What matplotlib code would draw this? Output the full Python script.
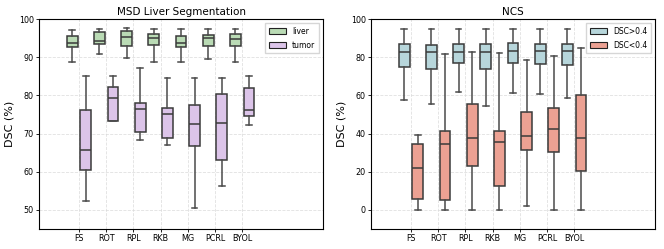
import matplotlib
matplotlib.use("Agg")
import matplotlib.pyplot as plt
from matplotlib.patches import Patch

methods = ["FS", "ROT", "RPL", "RKB", "MG", "PCRL", "BYOL"]

# [whislo, q1, median, q3, whishi]
liver = [
    [88.8, 92.6, 93.7, 95.6, 97.2],
    [91.0, 93.6, 94.4, 96.6, 97.4],
    [89.8, 93.1, 95.3, 96.9, 97.8],
    [88.9, 93.3, 95.0, 96.1, 97.5],
    [88.7, 92.6, 93.9, 95.6, 97.5],
    [89.5, 92.9, 95.0, 95.9, 97.5],
    [88.8, 93.0, 94.7, 96.1, 97.5],
]
tumor = [
    [52.3, 60.5, 65.6, 76.3, 85.2],
    [73.4, 73.4, 79.4, 82.3, 85.1],
    [68.2, 70.5, 76.4, 78.1, 87.3],
    [67.1, 68.8, 75.0, 76.6, 84.6],
    [50.5, 66.7, 72.5, 77.5, 84.6],
    [56.2, 63.1, 72.8, 80.5, 84.6],
    [72.3, 74.5, 76.3, 81.9, 85.2],
]
dsc_high = [
    [57.7, 75.1, 82.6, 87.0, 94.7],
    [55.3, 73.7, 82.6, 86.3, 95.1],
    [61.6, 76.8, 82.6, 87.2, 95.1],
    [54.4, 74.0, 82.6, 87.0, 95.1],
    [61.4, 77.2, 83.2, 87.5, 94.7],
    [60.9, 76.7, 83.5, 87.0, 95.1],
    [58.9, 75.8, 83.5, 87.2, 94.7],
]
dsc_low = [
    [0.0, 5.8, 21.9, 34.6, 39.3],
    [0.0, 5.3, 34.4, 41.4, 81.8],
    [0.0, 23.0, 37.9, 55.6, 83.0],
    [0.0, 12.3, 35.6, 41.4, 82.5],
    [2.1, 31.1, 38.6, 51.2, 78.8],
    [0.0, 30.5, 42.6, 53.5, 80.5],
    [0.0, 20.5, 37.5, 60.0, 84.9],
]

panels = [
    ("MSD Liver Segmentation", liver, tumor, ["liver", "tumor"],
     ["#badbb5", "#dcc4e9"], (45, 100), list(range(50, 101, 10))),
    ("NCS", dsc_high, dsc_low, ["DSC>0.4", "DSC<0.4"],
     ["#b7d6db", "#eca193"], (-10, 100), list(range(0, 101, 20))),
]

fig = plt.figure(figsize=(6.64, 2.49), dpi=100)
axes_rects = [[0.0592, 0.0815, 0.4268, 0.841], [0.5592, 0.0815, 0.4268, 0.841]]
edge = "#3a3a3a"

def to_stats(rows):
    out = []
    for r in rows:
        out.append(dict(whislo=r[0], q1=r[1], med=r[2], q3=r[3], whishi=r[4], fliers=[]))
    return out

for rect, (title, s1, s2, labels, colors, ylim, yticks) in zip(axes_rects, panels):
    ax = fig.add_axes(rect)
    ax.set_axisbelow(True)
    ax.grid(True, linestyle="--", color="#d9d9d9", linewidth=0.6, alpha=0.8)
    n = len(methods)
    for data, off, col in ((s1, -0.25, colors[0]), (s2, 0.25, colors[1])):
        pos = [i + off for i in range(n)]
        ax.bxp(to_stats(data), positions=pos, widths=0.4, patch_artist=True,
               showfliers=False, manage_ticks=False,
               boxprops=dict(facecolor=col, edgecolor=edge, linewidth=1.1),
               medianprops=dict(color=edge, linewidth=1.1),
               whiskerprops=dict(color="#4a4a4a", linewidth=1.1),
               capprops=dict(color="#4a4a4a", linewidth=1.1))
    ax.set_xticks(range(n))
    ax.set_xticklabels(methods, fontsize=5.8)
    ax.set_xlim(-1.46, n - 1 + 2.96)
    ax.set_ylim(*ylim)
    ax.set_yticks(yticks)
    ax.tick_params(axis="y", labelsize=5.8, length=2.5, width=0.6, pad=1.5)
    ax.tick_params(axis="x", length=2.5, width=0.6, pad=1.5)
    ax.set_ylabel("DSC (%)", fontsize=8, labelpad=3)
    ax.set_title(title, fontsize=7.5, pad=3)
    for sp in ax.spines.values():
        sp.set_linewidth(0.8)
    handles = [Patch(facecolor=colors[0], edgecolor="#222222", linewidth=0.8),
               Patch(facecolor=colors[1], edgecolor="#222222", linewidth=0.8)]
    ax.legend(handles, labels, loc="upper right", fontsize=5.5, frameon=True,
              fancybox=False, edgecolor="#cccccc", handlelength=2.2, handleheight=0.8,
              borderpad=0.5, labelspacing=0.6)

fig.savefig("out.png", dpi=100)
